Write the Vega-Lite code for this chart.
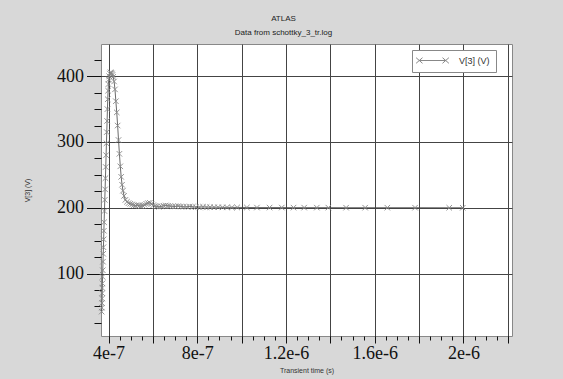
{
  "$schema": "https://vega.github.io/schema/vega-lite/v6.json",
  "width": 411,
  "height": 292,
  "autosize": {"type": "none"},
  "padding": {"left": 101, "top": 44, "right": 51, "bottom": 43},
  "background": "#d8d8d8",
  "title": {
    "text": "ATLAS",
    "subtitle": "Data from schottky_3_tr.log",
    "font": "Liberation Sans",
    "subtitleFont": "Liberation Sans",
    "fontSize": 8,
    "subtitleFontSize": 8,
    "fontWeight": "normal",
    "color": "#222",
    "subtitleColor": "#222",
    "anchor": "middle",
    "dx": -23,
    "offset": 7,
    "subtitlePadding": 6
  },
  "data": {
    "values": [
      {"t": 3.69e-7, "v": 42}, {"t": 3.70e-7, "v": 48}, {"t": 3.705e-7, "v": 55}, {"t": 3.71e-7, "v": 62},
      {"t": 3.715e-7, "v": 70}, {"t": 3.72e-7, "v": 78}, {"t": 3.725e-7, "v": 85}, {"t": 3.73e-7, "v": 95},
      {"t": 3.74e-7, "v": 105}, {"t": 3.75e-7, "v": 118}, {"t": 3.76e-7, "v": 130}, {"t": 3.77e-7, "v": 140},
      {"t": 3.78e-7, "v": 152}, {"t": 3.79e-7, "v": 165}, {"t": 3.80e-7, "v": 178}, {"t": 3.815e-7, "v": 195},
      {"t": 3.83e-7, "v": 212}, {"t": 3.845e-7, "v": 228}, {"t": 3.86e-7, "v": 245}, {"t": 3.875e-7, "v": 262},
      {"t": 3.89e-7, "v": 280}, {"t": 3.905e-7, "v": 298}, {"t": 3.92e-7, "v": 315}, {"t": 3.935e-7, "v": 332},
      {"t": 3.95e-7, "v": 350}, {"t": 3.965e-7, "v": 365}, {"t": 3.98e-7, "v": 378}, {"t": 3.995e-7, "v": 388},
      {"t": 4.01e-7, "v": 395}, {"t": 4.03e-7, "v": 400}, {"t": 4.06e-7, "v": 404}, {"t": 4.09e-7, "v": 406},
      {"t": 4.12e-7, "v": 405}, {"t": 4.15e-7, "v": 404}, {"t": 4.18e-7, "v": 402}, {"t": 4.21e-7, "v": 399},
      {"t": 4.25e-7, "v": 392}, {"t": 4.29e-7, "v": 380}, {"t": 4.33e-7, "v": 362}, {"t": 4.37e-7, "v": 345},
      {"t": 4.41e-7, "v": 325}, {"t": 4.45e-7, "v": 303}, {"t": 4.49e-7, "v": 282}, {"t": 4.53e-7, "v": 263},
      {"t": 4.57e-7, "v": 247}, {"t": 4.61e-7, "v": 235}, {"t": 4.65e-7, "v": 226}, {"t": 4.70e-7, "v": 218},
      {"t": 4.76e-7, "v": 212}, {"t": 4.83e-7, "v": 209}, {"t": 4.90e-7, "v": 207}, {"t": 4.98e-7, "v": 206},
      {"t": 5.06e-7, "v": 205}, {"t": 5.14e-7, "v": 204}, {"t": 5.22e-7, "v": 203.5}, {"t": 5.30e-7, "v": 204},
      {"t": 5.38e-7, "v": 203}, {"t": 5.46e-7, "v": 202.5}, {"t": 5.54e-7, "v": 203}, {"t": 5.62e-7, "v": 204.5},
      {"t": 5.70e-7, "v": 206}, {"t": 5.78e-7, "v": 207}, {"t": 5.86e-7, "v": 207.5}, {"t": 5.94e-7, "v": 206},
      {"t": 6.02e-7, "v": 204}, {"t": 6.10e-7, "v": 202.5}, {"t": 6.18e-7, "v": 202}, {"t": 6.28e-7, "v": 201.5},
      {"t": 6.38e-7, "v": 202}, {"t": 6.48e-7, "v": 203}, {"t": 6.58e-7, "v": 203.5}, {"t": 6.68e-7, "v": 203},
      {"t": 6.78e-7, "v": 202.5}, {"t": 6.90e-7, "v": 202}, {"t": 7.02e-7, "v": 202}, {"t": 7.14e-7, "v": 202.5},
      {"t": 7.26e-7, "v": 202}, {"t": 7.38e-7, "v": 201.5}, {"t": 7.52e-7, "v": 201.5}, {"t": 7.66e-7, "v": 202},
      {"t": 7.80e-7, "v": 201.5}, {"t": 7.94e-7, "v": 201}, {"t": 8.10e-7, "v": 201}, {"t": 8.26e-7, "v": 201.5},
      {"t": 8.42e-7, "v": 201}, {"t": 8.58e-7, "v": 201}, {"t": 8.76e-7, "v": 200.8}, {"t": 8.94e-7, "v": 200.8},
      {"t": 9.14e-7, "v": 200.6}, {"t": 9.34e-7, "v": 200.6}, {"t": 9.56e-7, "v": 200.5}, {"t": 9.80e-7, "v": 200.5},
      {"t": 1.0237e-6, "v": 200.4}, {"t": 1.069e-6, "v": 200.3}, {"t": 1.126e-6, "v": 200.3}, {"t": 1.181e-6, "v": 200.3},
      {"t": 1.234e-6, "v": 200.2}, {"t": 1.282e-6, "v": 200.2}, {"t": 1.339e-6, "v": 200.2}, {"t": 1.391e-6, "v": 200.2},
      {"t": 1.471e-6, "v": 200.1}, {"t": 1.557e-6, "v": 200.1}, {"t": 1.657e-6, "v": 200.1}, {"t": 1.782e-6, "v": 200.1},
      {"t": 1.936e-6, "v": 200}, {"t": 1.997e-6, "v": 200}
    ]
  },
  "layer": [
    {
      "mark": {"type": "point", "opacity": 0},
      "encoding": {
        "x": {
          "field": "t", "type": "quantitative",
          "scale": {"domain": [3.66e-7, 2.219e-6], "nice": false, "zero": false},
          "axis": {
            "orient": "bottom", "title": null, "labels": false, "grid": false, "domain": false,
            "tickSize": 4, "tickColor": "#111", "tickWidth": 1,
            "values": [4e-7, 4.5e-7, 5e-7, 5.5e-7, 6e-7, 6.5e-7, 7e-7, 7.5e-7, 8e-7, 8.5e-7, 9e-7, 9.5e-7, 1e-6, 1.05e-6, 1.1e-6, 1.15e-6, 1.2e-6, 1.25e-6, 1.3e-6, 1.35e-6, 1.4e-6, 1.45e-6, 1.5e-6, 1.55e-6, 1.6e-6, 1.65e-6, 1.7e-6, 1.75e-6, 1.8e-6, 1.85e-6, 1.9e-6, 1.95e-6, 2e-6, 2.05e-6, 2.1e-6, 2.15e-6, 2.2e-6]
          }
        },
        "y": {
          "field": "v", "type": "quantitative",
          "scale": {"domain": [5, 449], "nice": false, "zero": false},
          "axis": {
            "orient": "left", "title": null, "labels": false, "grid": false, "domain": false,
            "tickSize": 7, "tickColor": "#111", "tickWidth": 1,
            "values": [25, 50, 75, 125, 150, 175, 225, 250, 275, 325, 350, 375, 425]
          }
        }
      }
    },
    {
      "mark": {"type": "line", "color": "#444", "strokeWidth": 0.8},
      "encoding": {
        "x": {
          "field": "t", "type": "quantitative",
          "axis": {
            "orient": "bottom", "title": "Transient time (s)",
            "values": [4e-7, 6e-7, 8e-7, 1e-6, 1.2e-6, 1.4e-6, 1.6e-6, 1.8e-6, 2e-6, 2.2e-6],
            "labelExpr": "indexof(['4e-7','8e-7','1.2e-6','1.6e-6','2e-6'], format(datum.value, '~e')) >= 0 ? format(datum.value, '~e') : ''",
            "grid": true, "gridColor": "#444", "gridWidth": 1, "gridOpacity": 1,
            "domain": false, "tickSize": 7, "tickColor": "#111", "tickWidth": 1,
            "labelFont": "Liberation Serif", "labelFontSize": 18, "labelColor": "#111",
            "labelPadding": 1, "labelOverlap": false, "labelFlush": false, "labelBound": false,
            "titleFont": "Liberation Sans", "titleFontSize": 7, "titleFontWeight": "normal", "titleColor": "#333",
            "titlePadding": 4
          }
        },
        "y": {
          "field": "v", "type": "quantitative",
          "axis": {
            "orient": "left", "title": "V[3] (V)",
            "values": [100, 200, 300, 400],
            "grid": true, "gridColor": "#444", "gridWidth": 1, "gridOpacity": 1,
            "domain": false, "tickSize": 14.5, "tickColor": "#111", "tickWidth": 1,
            "labelFont": "Liberation Serif", "labelFontSize": 18, "labelColor": "#111",
            "labelPadding": 3, "labelOverlap": false, "labelBound": false, "labelFlush": false,
            "titleFont": "Liberation Sans", "titleFontSize": 7, "titleFontWeight": "normal", "titleColor": "#333",
            "titlePadding": 26
          }
        }
      }
    },
    {
      "mark": {"type": "point", "shape": "M-1,-1L1,1M-1,1L1,-1", "filled": false, "size": 30, "strokeWidth": 0.9, "opacity": 1},
      "encoding": {
        "x": {"field": "t", "type": "quantitative", "axis": null},
        "y": {"field": "v", "type": "quantitative", "axis": null},
        "color": {
          "datum": "V[3] (V)",
          "scale": {"range": ["#888"]},
          "legend": {
            "title": null, "orient": "none", "legendX": 311, "legendY": 6,
            "fillColor": "white", "strokeColor": "#888", "padding": 6,
            "symbolType": "M-3.3,0L3.3,0M-4.1,-0.7L-2.5,0.7M-4.1,0.7L-2.5,-0.7M2.5,-0.7L4.1,0.7M2.5,0.7L4.1,-0.7",
            "symbolSize": 64, "symbolStrokeWidth": 1, "symbolFillColor": "transparent", "symbolStrokeColor": "#666",
            "symbolOffset": 10, "labelOffset": 22,
            "labelFont": "Liberation Sans", "labelFontSize": 9, "labelColor": "#333"
          }
        }
      }
    }
  ],
  "resolve": {"axis": {"x": "independent", "y": "independent"}},
  "config": {
    "view": {"fill": "white", "stroke": "#888", "strokeWidth": 1}
  }
}
